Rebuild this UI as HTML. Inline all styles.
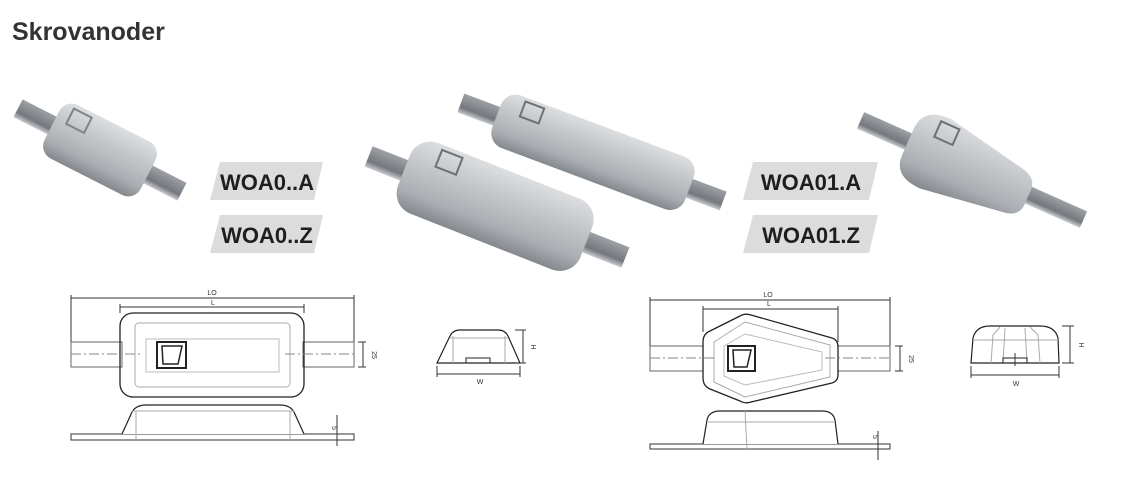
<!DOCTYPE html>
<html><head><meta charset="utf-8"><style>
html,body{margin:0;padding:0;background:#fff;}
svg{display:block;}
</style></head><body>
<svg width="1136" height="504" viewBox="0 0 1136 504" xmlns="http://www.w3.org/2000/svg" font-family="Liberation Sans, sans-serif">
<defs>
<linearGradient id="zn" x1="0" y1="0" x2="0" y2="1">
<stop offset="0" stop-color="#dcdee0"/><stop offset="0.35" stop-color="#c4c7ca"/><stop offset="0.75" stop-color="#aaaeb2"/><stop offset="1" stop-color="#83888d"/>
</linearGradient>
<linearGradient id="tab" x1="0" y1="0" x2="0" y2="1">
<stop offset="0" stop-color="#9da1a5"/><stop offset="0.7" stop-color="#74787d"/><stop offset="1" stop-color="#c9ccd0"/>
</linearGradient>
</defs>
<text x="12" y="40" font-size="25" font-weight="bold" fill="#333">Skrovanoder</text>

<g transform="translate(100,150) rotate(27)">
<rect x="-92" y="-10" width="184" height="20" fill="url(#tab)"/>
<rect x="-54" y="-30" width="108" height="60" rx="14" fill="url(#zn)"/>
<rect x="-42" y="-25" width="20" height="17" fill="none" stroke="#80858a" stroke-width="2"/>
</g>
<g transform="translate(592,152) rotate(20.5)">
<rect x="-140" y="-10" width="280" height="20" fill="url(#tab)"/>
<rect x="-102" y="-28" width="206" height="56" rx="16" fill="url(#zn)"/>
<rect x="-80" y="-24" width="20" height="16" fill="none" stroke="#6d7175" stroke-width="2"/>
</g>
<g transform="translate(497,207) rotate(21.5)">
<rect x="-138" y="-11" width="276" height="22" fill="url(#tab)"/>
<rect x="-100" y="-38" width="196" height="76" rx="22" fill="url(#zn)"/>
<rect x="-72" y="-33" width="22" height="18" fill="none" stroke="#6d7175" stroke-width="2"/>
</g>
<g transform="translate(972,170) rotate(24)">
<rect x="-122" y="-9" width="244" height="18" fill="url(#tab)"/>
<path d="M-70,-14 Q-70,-38 -40,-38 L45,-22 Q62,-19 62,-5 L62,10 Q62,24 45,26 L-40,38 Q-70,38 -70,14 Z" fill="url(#zn)"/>
<rect x="-48" y="-32" width="20" height="17" fill="none" stroke="#6d7175" stroke-width="2"/>
</g>

<g font-size="22" font-weight="bold" fill="#1e1e1e" text-anchor="middle">
<polygon points="220,162 323,162 314,200 210,200" fill="#dcdcdc"/>
<text x="267" y="190">WOA0..A</text>
<polygon points="220,215 323,215 314,253 210,253" fill="#dcdcdc"/>
<text x="267" y="243">WOA0..Z</text>
<polygon points="753,162 878,162 869,200 743,200" fill="#dcdcdc"/>
<text x="811" y="190">WOA01.A</text>
<polygon points="753,215 878,215 869,253 743,253" fill="#dcdcdc"/>
<text x="811" y="243">WOA01.Z</text>
</g>

<g fill="none" stroke="#333" stroke-width="1">
<line x1="71" y1="298" x2="354" y2="298"/><line x1="71" y1="295" x2="71" y2="342"/><line x1="354" y1="295" x2="354" y2="342"/>
<line x1="120" y1="307" x2="304" y2="307"/><line x1="120" y1="304" x2="120" y2="313"/><line x1="304" y1="304" x2="304" y2="313"/>
<rect x="71" y="342" width="51" height="25" stroke="#666"/>
<rect x="303" y="342" width="51" height="25" stroke="#666"/>
<rect x="120" y="313" width="184" height="84" rx="13" stroke="#222" stroke-width="1.3"/>
<rect x="135" y="323" width="155" height="64" rx="4" stroke="#aaa"/>
<rect x="146" y="339" width="133" height="33" stroke="#bbb"/>
<line x1="363" y1="342" x2="363" y2="367"/><line x1="358" y1="342" x2="366" y2="342"/><line x1="358" y1="367" x2="366" y2="367"/>
<line x1="71" y1="354" x2="140" y2="354" stroke="#888" stroke-dasharray="10,3,2,3"/>
<line x1="285" y1="354" x2="354" y2="354" stroke="#888" stroke-dasharray="10,3,2,3"/>
<rect x="157" y="342" width="29" height="26" stroke="#222" stroke-width="2"/>
<path d="M162,346 L182,346 L178,364 L163,364 Z" stroke="#222" stroke-width="1.5"/>
<rect x="71" y="434" width="283" height="6" stroke="#333"/>
<path d="M122,434 L132,412 Q136,405 146,405 L280,405 Q290,405 294,412 L304,434" fill="#fff" stroke="#222" stroke-width="1.2"/>
<line x1="136" y1="411" x2="136" y2="440" stroke="#aaa"/><line x1="290" y1="411" x2="290" y2="440" stroke="#aaa"/>
<line x1="132" y1="411" x2="294" y2="411" stroke="#aaa"/>
<line x1="337" y1="415" x2="337" y2="446"/>
<path d="M437,363 L450,336 Q453,330 460,330 L498,330 Q505,330 508,336 L520,363 Z" stroke="#222" stroke-width="1.2"/>
<line x1="453" y1="336" x2="453" y2="363" stroke="#aaa"/><line x1="505" y1="336" x2="505" y2="363" stroke="#aaa"/>
<line x1="450" y1="338" x2="508" y2="338" stroke="#aaa"/>
<rect x="466" y="358" width="24" height="5" stroke="#222"/>
<line x1="515" y1="330" x2="526" y2="330"/><line x1="523" y1="330" x2="523" y2="363"/><line x1="515" y1="363" x2="526" y2="363"/>
<line x1="437" y1="374" x2="520" y2="374"/><line x1="437" y1="366" x2="437" y2="377"/><line x1="520" y1="366" x2="520" y2="377"/>
</g>
<g font-size="7" fill="#333" text-anchor="middle">
<text x="212" y="295">LO</text><text x="213" y="305">L</text>
<text x="372" y="355" transform="rotate(90 372 355)">25</text>
<text x="332" y="428" transform="rotate(90 332 428)">5</text>
<text x="531" y="347" transform="rotate(90 531 347)">H</text>
<text x="480" y="384">W</text>
</g>

<g fill="none" stroke="#333" stroke-width="1">
<line x1="650" y1="300" x2="890" y2="300"/><line x1="650" y1="297" x2="650" y2="346"/><line x1="890" y1="297" x2="890" y2="346"/>
<line x1="703" y1="309" x2="838" y2="309"/><line x1="703" y1="306" x2="703" y2="332"/><line x1="838" y1="306" x2="838" y2="342"/>
<rect x="650" y="346" width="54" height="25" stroke="#666"/>
<rect x="837" y="346" width="53" height="25" stroke="#666"/>
<path d="M703,342 Q703,334 710,331 L740,316 Q745,313 751,315 L832,338 Q838,340 838,347 L838,375 Q838,381 832,383 L751,402 Q745,404 740,401 L710,389 Q703,386 703,378 Z" fill="#fff" stroke="#222" stroke-width="1.3"/>
<path d="M714,342 L745,322 L830,345 L830,377 L745,397 L714,382 Z" stroke="#aaa"/>
<path d="M724,346 L745,334 L822,352 L822,370 L745,385 L724,376 Z" stroke="#bbb"/>
<line x1="650" y1="358" x2="716" y2="358" stroke="#888" stroke-dasharray="10,3,2,3"/>
<line x1="825" y1="358" x2="890" y2="358" stroke="#888" stroke-dasharray="10,3,2,3"/>
<rect x="728" y="346" width="27" height="25" stroke="#222" stroke-width="2"/>
<path d="M733,350 L751,350 L747,367 L734,367 Z" stroke="#222" stroke-width="1.5"/>
<line x1="900" y1="346" x2="900" y2="371"/><line x1="895" y1="346" x2="903" y2="346"/><line x1="895" y1="371" x2="903" y2="371"/>
<rect x="650" y="444" width="240" height="5" stroke="#333"/>
<path d="M703,444 L707,420 Q709,411 720,411 L822,411 Q833,411 835,420 L838,444" fill="#fff" stroke="#222" stroke-width="1.2"/>
<line x1="708" y1="422" x2="835" y2="422" stroke="#aaa"/>
<line x1="745" y1="411" x2="747" y2="449" stroke="#aaa"/>
<line x1="878" y1="431" x2="878" y2="460"/>
<path d="M971,363 L973,338 Q976,326 990,326 L1040,326 Q1055,326 1058,338 L1059,363 Z" stroke="#222" stroke-width="1.2"/>
<line x1="973" y1="340" x2="1058" y2="340" stroke="#aaa"/>
<path d="M991,363 L993,335 L1000,327 M1040,363 L1038,335 L1030,327 M1003,363 L1005,328 M1027,363 L1025,328" stroke="#aaa"/>
<rect x="1003" y="358" width="24" height="5" stroke="#222"/>
<line x1="1015" y1="353" x2="1015" y2="366"/>
<line x1="1062" y1="326" x2="1074" y2="326"/><line x1="1070" y1="326" x2="1070" y2="363"/><line x1="1062" y1="363" x2="1074" y2="363"/>
<line x1="971" y1="375" x2="1059" y2="375"/><line x1="971" y1="366" x2="971" y2="378"/><line x1="1059" y1="366" x2="1059" y2="378"/>
</g>
<g font-size="7" fill="#333" text-anchor="middle">
<text x="768" y="297">LO</text><text x="769" y="306">L</text>
<text x="909" y="359" transform="rotate(90 909 359)">25</text>
<text x="873" y="437" transform="rotate(90 873 437)">5</text>
<text x="1079" y="345" transform="rotate(90 1079 345)">H</text>
<text x="1016" y="386">W</text>
</g>
</svg>
</body></html>
